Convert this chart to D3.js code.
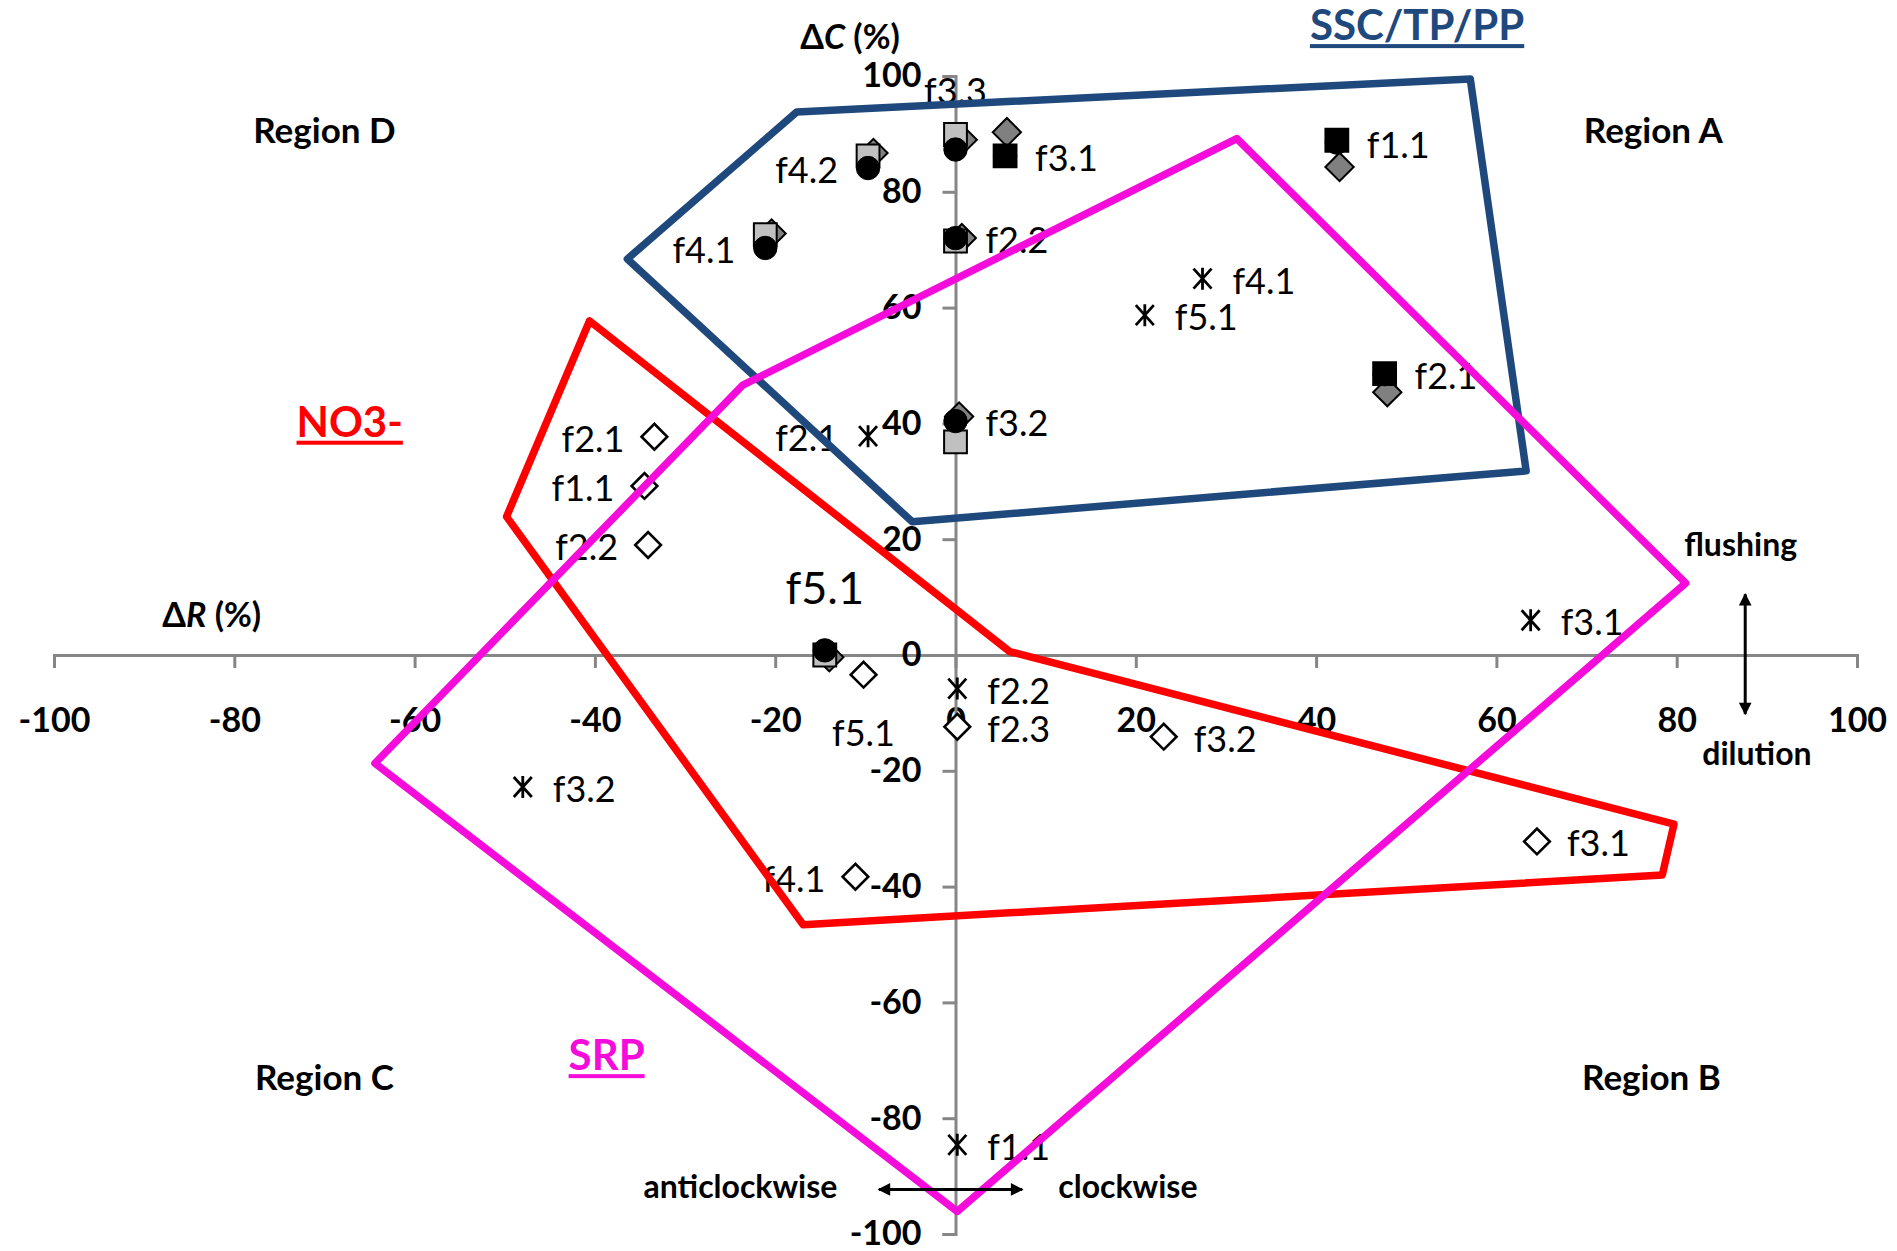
<!DOCTYPE html>
<html>
<head>
<meta charset="utf-8">
<script src="https://cdn.jsdelivr.net/npm/d3@7"></script>
<style>
  html, body { margin: 0; padding: 0; background: #fff; }
  svg { display: block; font-family: Lato, "Open Sans", "Liberation Sans", sans-serif; }
</style>
</head>
<body>
<svg id="chart" width="1897" height="1251"></svg>
<script>
// ---- axis ticks ----
const xTickValues = [-100, -80, -60, -40, -20, 0, 20, 40, 60, 80, 100];
const yTickValues = [-100, -80, -60, -40, -20, 0, 20, 40, 60, 80, 100];

// ---- SSC / TP / PP hysteresis indices (ΔR, ΔC in %) ----
const graySquareEvents = ["f2.2", "f3.2", "f3.3", "f4.1", "f4.2", "f5.1"];
const graySquareR      = [0, 0, 0, -21.1, -9.7, -14.5];
const graySquareC      = [71.5, 36.8, 89.9, 72.6, 86.2, 0.0];

const blackSquareEvents = ["f1.1", "f2.1", "f3.1"];
const blackSquareR      = [42.3, 47.6, 5.5];
const blackSquareC      = [88.9, 48.6, 86.2];

const circleEvents = ["f1.1", "f2.1", "f2.2", "f3.1", "f3.2", "f3.3", "f4.1", "f4.2", "f5.1"];
const circleR      = [42.3, 47.6, 0, 5.5, 0, 0, -21.1, -9.7, -14.5];
const circleC      = [88.5, 48.5, 72.0, 86.2, 40.4, 87.3, 70.3, 84.1, 0.8];

const grayDiamondEvents = ["f1.1", "f2.1", "f2.2", "f3.1", "f3.2", "f3.3", "f4.1", "f4.2", "f5.1"];
const grayDiamondR      = [42.6, 47.9, 0.7, 5.7, 0.4, 0.8, -20.4, -9.1, -14.0];
const grayDiamondC      = [84.3, 45.4, 72.0, 90.3, 41.2, 89.0, 72.8, 86.7, -0.4];

// ---- NO3- ----
const no3Events = ["f2.1", "f1.1", "f2.2", "f5.1", "f2.3", "f3.2", "f3.1", "f4.1"];
const no3R      = [-33.4, -34.5, -34.1, -10.2, 0.2, 23.1, 64.5, -11.1];
const no3C      = [37.7, 29.2, 19.0, -3.4, -12.4, -14.1, -32.2, -38.3];

// ---- SRP ----
const srpEvents = ["f2.1", "f4.1", "f5.1", "f3.1", "f2.2", "f3.2", "f1.1"];
const srpR      = [-9.7, 27.4, 21.0, 63.8, 0.2, -48.0, 0.2];
const srpC      = [37.8, 65.0, 58.7, 6.0, -5.8, -22.8, -84.6];

// ---- envelopes around each constituent group ----
const sscEnvelopeR = [-17.6, 57.1, 63.3, -4.8, -36.4];
const sscEnvelopeC = [93.8, 99.5, 31.8, 23.0, 68.4];
const no3EnvelopeR = [-40.6, -49.8, -16.9, 78.4, 79.7, 6.0];
const no3EnvelopeC = [57.7, 23.9, -46.6, -38.0, -29.2, 0.6];
const srpEnvelopeR = [31.2, 81.0, 0.2, -64.4, -23.6];
const srpEnvelopeC = [89.2, 12.4, -96.1, -18.7, 46.6];

// ---------------------------------------------------------------
const svg = d3.select("#chart");
const x = d3.scaleLinear().domain([-100, 100]).range([54, 1857]);
const y = d3.scaleLinear().domain([-100, 100]).range([1234, 76]);

const AXIS = "#868686";
const BLUE = "#1F497D";
const RED = "#FF0000";
const MAGENTA = "#F50BDA";

const zip = (ev, r, c) => ev.map((e, i) => ({ ev: e, r: r[i], c: c[i] }));
const plain = d => String(d);   // hyphen-minus, as in the printed figure

// axes through the origin
const xAxis = d3.axisBottom(x).tickValues(xTickValues).tickFormat(plain)
  .tickSize(13).tickSizeOuter(13).tickPadding(40);
const yAxis = d3.axisLeft(y).tickValues(yTickValues).tickFormat(plain)
  .tickSize(13).tickSizeOuter(13).tickPadding(21);

function styleAxis(g) {
  g.attr("font-family", null).attr("font-size", null);
  g.select(".domain").attr("stroke", AXIS).attr("stroke-width", 3);
  g.selectAll(".tick line").attr("stroke", AXIS).attr("stroke-width", 3);
  g.selectAll(".tick text")
    .attr("fill", "#000")
    .style("font-family", "Lato, 'Open Sans', sans-serif")
    .style("font-weight", "700")
    .style("font-size", "34px");
}
svg.append("g").attr("transform", `translate(0,${y(0)})`).call(xAxis).call(styleAxis);
svg.append("g").attr("transform", `translate(${x(0)},0)`).call(yAxis).call(styleAxis);

// ---- markers ----
const marks = svg.append("g");
const sym = (type, size) => d3.symbol().type(type).size(size)();

function drawSymbols(data, path, attrs, rotate) {
  const sel = marks.selectAll(null).data(data).enter().append("path")
    .attr("d", path)
    .attr("transform", d => `translate(${x(d.r)},${y(d.c)})` + (rotate ? " rotate(45)" : ""));
  Object.entries(attrs).forEach(([k, v]) => sel.attr(k, v));
}

// filled group: diamonds at the back, squares, then circles on top
drawSymbols(zip(grayDiamondEvents, grayDiamondR, grayDiamondC), sym(d3.symbolSquare, 400),
  { fill: "#808080", stroke: "#000", "stroke-width": 2 }, true);
drawSymbols(zip(graySquareEvents, graySquareR, graySquareC), sym(d3.symbolSquare, 520),
  { fill: "#C0C0C0", stroke: "#000", "stroke-width": 2 });
drawSymbols(zip(blackSquareEvents, blackSquareR, blackSquareC), sym(d3.symbolSquare, 520),
  { fill: "#000", stroke: "#000", "stroke-width": 2 });
drawSymbols(zip(circleEvents, circleR, circleC), sym(d3.symbolCircle, 430),
  { fill: "#000", stroke: "#000", "stroke-width": 1 });

// NO3-: open diamonds
drawSymbols(zip(no3Events, no3R, no3C), sym(d3.symbolSquare, 330),
  { fill: "#fff", stroke: "#000", "stroke-width": 2.6 }, true);

// SRP: asterisks
const asterisk = "M0,-11V11M-9,-10L9,10M9,-10L-9,10";
drawSymbols(zip(srpEvents, srpR, srpC), asterisk,
  { fill: "none", stroke: "#000", "stroke-width": 2.8 });

// ---- event labels ----
const labelLayer = svg.append("g")
  .style("font-family", "Lato, 'Open Sans', sans-serif")
  .style("font-size", "36px")
  .attr("fill", "#000");

function drawLabels(data, sideOf, bigger) {
  data.forEach(d => {
    const side = sideOf[d.ev] || "r";
    const px = x(d.r), py = y(d.c);
    const t = labelLayer.append("text").text(d.ev);
    if (bigger && bigger.includes(d.ev)) t.style("font-size", "45px");
    if (side === "r") t.attr("x", px + 30).attr("y", py + 15).attr("text-anchor", "start");
    else if (side === "l") t.attr("x", px - 30).attr("y", py + 15).attr("text-anchor", "end");
    else if (side === "t") t.attr("x", px).attr("y", py - 46).attr("text-anchor", "middle");
    else t.attr("x", px).attr("y", py + 71).attr("text-anchor", "middle");
  });
}
drawLabels(zip(circleEvents, circleR, circleC),
  { "f3.3": "t", "f4.1": "l", "f4.2": "l", "f5.1": "t" }, ["f5.1"]);
drawLabels(zip(no3Events, no3R, no3C),
  { "f2.1": "l", "f1.1": "l", "f2.2": "l", "f5.1": "b", "f4.1": "l" });
drawLabels(zip(srpEvents, srpR, srpC), { "f2.1": "l" });

// ---- envelopes ----
const line = d3.line().x(d => x(d.r)).y(d => y(d.c)).curve(d3.curveLinearClosed);
const envelope = (r, c) => r.map((v, i) => ({ r: v, c: c[i] }));
[[sscEnvelopeR, sscEnvelopeC, BLUE], [no3EnvelopeR, no3EnvelopeC, RED], [srpEnvelopeR, srpEnvelopeC, MAGENTA]]
  .forEach(([r, c, col]) => {
    svg.append("path").attr("d", line(envelope(r, c)))
      .attr("fill", "none").attr("stroke", col).attr("stroke-width", 7.5)
      .attr("stroke-linejoin", "round");
  });

// ---- annotations ----
const notes = svg.append("g").style("font-family", "Lato, 'Open Sans', sans-serif").style("font-weight", "700");

function note(text, r, c, size, anchor, color) {
  return notes.append("text").attr("x", x(r)).attr("y", y(c))
    .attr("text-anchor", anchor).attr("fill", color || "#000")
    .style("font-size", size + "px").text(text);
}

// axis titles with italic variable
function axisTitle(symbolLetter, r, c) {
  const t = notes.append("text").attr("x", x(r)).attr("y", y(c)).attr("text-anchor", "middle")
    .style("font-size", "34px").attr("fill", "#000");
  t.append("tspan").text("Δ");
  t.append("tspan").style("font-style", "italic").text(symbolLetter);
  t.append("tspan").text(" (%)");
}
axisTitle("C", -11.7, 104.6);
axisTitle("R", -82.5, 4.8);

note("Region D", -70, 88.4, 35, "middle");
note("Region A", 77.4, 88.4, 35, "middle");
note("Region C", -70, -75.1, 35, "middle");
note("Region B", 77.2, -75.1, 35, "middle");

function underlined(text, r, c, color) {
  const t = note(text, r, c, 42, "middle", color);
  const b = t.node().getBBox();
  notes.append("rect").attr("x", b.x).attr("y", y(c) + 4)
    .attr("width", b.width).attr("height", 4).attr("fill", color);
}
underlined("SSC/TP/PP", 51.2, 106.2, BLUE);
underlined("NO3-", -67.2, 37.7, RED);
underlined("SRP", -38.7, -71.7, MAGENTA);

note("flushing", 87.1, 17.1, 32, "middle");
note("dilution", 88.9, -19.0, 32, "middle");
note("anticlockwise", -13.1, -93.8, 32, "end");
note("clockwise", 11.4, -93.8, 32, "start");

// double-headed arrows
const defs = svg.append("defs");
defs.append("marker").attr("id", "head").attr("viewBox", "0 0 10 10")
  .attr("refX", 9).attr("refY", 5).attr("markerWidth", 5).attr("markerHeight", 4.2)
  .attr("markerUnits", "strokeWidth").attr("orient", "auto-start-reverse")
  .append("path").attr("d", "M0,0L10,5L0,10Z").attr("fill", "#000");

svg.append("line").attr("x1", x(87.6)).attr("x2", x(87.6)).attr("y1", y(10.5)).attr("y2", y(-10.2))
  .attr("stroke", "#000").attr("stroke-width", 3)
  .attr("marker-start", "url(#head)").attr("marker-end", "url(#head)");
svg.append("line").attr("x1", x(-8.5)).attr("x2", x(7.4)).attr("y1", y(-92.3)).attr("y2", y(-92.3))
  .attr("stroke", "#000").attr("stroke-width", 3)
  .attr("marker-start", "url(#head)").attr("marker-end", "url(#head)");
</script>
</body>
</html>
